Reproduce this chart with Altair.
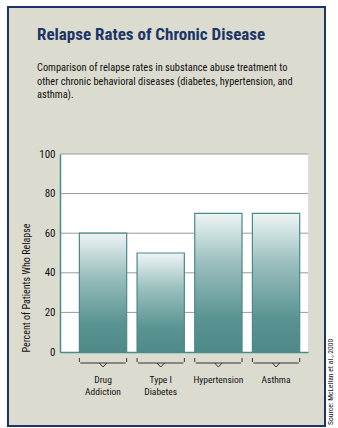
import altair as alt
import pandas as pd

categories = ["Drug Addiction", "Type I Diabetes", "Hypertension", "Asthma"]
label_lines = [["Drug", "Addiction"], ["Type I", "Diabetes"], ["Hypertension"], ["Asthma"]]
relapse_pct = [60, 50, 70, 70]
y_ticks = [0, 20, 40, 60, 80, 100]
grid_values = [20, 40, 60, 80, 100]

title_text = "Relapse Rates of Chronic Disease"
subtitle_lines = [
    "Comparison of relapse rates in substance abuse treatment to",
    "other chronic behavioral diseases (diabetes, hypertension, and",
    "asthma).",
]
source_text = "Source: McLellan et al., 2000"
y_title = "Percent of Patients Who Relapse"

FONT = "Roboto Condensed"
NAVY = "#1b3566"
TEAL = "#4a8a88"
BEIGE = "#dcdbd0"

W, H = 248, 198

df = pd.DataFrame({"cat": categories, "pct": relapse_pct,
                   "lab": ["\n".join(l) for l in label_lines]})
grid_df = pd.DataFrame({"g": grid_values})
one = pd.DataFrame({"k": [0]})

xscale = alt.Scale(domain=categories, paddingInner=0.18, paddingOuter=0.24, align=0.7)
yscale = alt.Scale(domain=[0, 100], nice=False)

y_axis = alt.Axis(values=y_ticks, ticks=False, grid=False, domainColor=TEAL,
                  domainWidth=1.5, zindex=1, title=y_title, labelFont=FONT,
                  labelFontSize=11, labelColor="#111", labelPadding=5,
                  labelOverlap=False, titleAnchor="start",
                  titleFont=FONT, titleFontSize=10, titleFontWeight="normal",
                  titleColor="#111", titlePadding=7)

panel = alt.Chart(one).mark_rect(fill=BEIGE, stroke=NAVY, strokeWidth=2).encode(
    x=alt.value(-52), x2=alt.value(265), y=alt.value(-147), y2=alt.value(272)
)
plot_bg = alt.Chart(one).mark_rect(fill="white").encode(
    x=alt.value(0), x2=alt.value(W), y=alt.value(0), y2=alt.value(H)
)
grid = alt.Chart(grid_df).mark_rule(color="#9a9a9a", strokeWidth=1).encode(
    y=alt.Y("g:Q", scale=yscale, axis=y_axis), x=alt.value(0), x2=alt.value(W)
)

gradient = alt.LinearGradient(
    gradient="linear", x1=0, y1=0, x2=0, y2=1,
    stops=[
        alt.GradientStop(offset=0, color="#eef5f5"),
        alt.GradientStop(offset=0.35, color="#9cc0bf"),
        alt.GradientStop(offset=0.75, color="#5a9492"),
        alt.GradientStop(offset=1, color="#4e8a88"),
    ],
)

bars = alt.Chart(df).mark_bar(fill=gradient, stroke=TEAL, strokeWidth=1.2).encode(
    x=alt.X("cat:N", scale=xscale, sort=categories,
            axis=alt.Axis(labels=False, ticks=False, title=None, domainColor=TEAL,
                          domainWidth=1.5, zindex=1, grid=False)),
    y=alt.Y("pct:Q", scale=yscale, axis=y_axis),
)

BRACE = "#333"
bx = dict(scale=xscale, sort=categories)
brace_h = alt.Chart(df).mark_rule(color=BRACE, strokeWidth=1).encode(
    x=alt.X("cat:N", bandPosition=0.02, **bx), x2=alt.X2("cat", bandPosition=0.98),
    y=alt.value(209)
)
brace_l = alt.Chart(df).mark_rule(color=BRACE, strokeWidth=1).encode(
    x=alt.X("cat:N", bandPosition=0.0, **bx), y=alt.value(204), y2=alt.value(208)
)
brace_r = alt.Chart(df).mark_rule(color=BRACE, strokeWidth=1).encode(
    x=alt.X("cat:N", bandPosition=1.0, **bx), y=alt.value(204), y2=alt.value(208)
)
tip_l = alt.Chart(df).mark_rule(color=BRACE, strokeWidth=1).encode(
    x=alt.X("cat:N", bandPosition=0.42, **bx), x2=alt.X2("cat", bandPosition=0.5),
    y=alt.value(209), y2=alt.value(213)
)
tip_r = alt.Chart(df).mark_rule(color=BRACE, strokeWidth=1).encode(
    x=alt.X("cat:N", bandPosition=0.58, **bx), x2=alt.X2("cat", bandPosition=0.5),
    y=alt.value(209), y2=alt.value(213)
)

cat_labels = alt.Chart(df).mark_text(font=FONT, fontSize=9.5, color="#111",
                                     baseline="top", align="center", lineBreak="\n",
                                     lineHeight=12).encode(
    x=alt.X("cat:N", bandPosition=0.5, **bx), y=alt.value(221), text="lab:N"
)

title = alt.Chart(one).mark_text(font=FONT, fontSize=17, fontWeight="bold", color=NAVY,
                                 align="left", baseline="alphabetic").encode(
    x=alt.value(-23), y=alt.value(-114), text=alt.value(title_text)
)
subtitle = alt.Chart(one).mark_text(font=FONT, fontSize=10.4, color="#111",
                                    align="left", baseline="alphabetic", lineHeight=13.5).encode(
    x=alt.value(-23), y=alt.value(-83), text=alt.value(subtitle_lines)
)
source = alt.Chart(one).mark_text(font=FONT, fontSize=7.6, color="#111", angle=270,
                                  align="left", baseline="middle").encode(
    x=alt.value(271), y=alt.value(271), text=alt.value(source_text)
)

chart = alt.layer(
    panel, plot_bg, grid, bars, brace_h, brace_l, brace_r, tip_l, tip_r,
    cat_labels, title, subtitle, source
).properties(
    width=W, height=H,
    autosize=alt.AutoSizeParams(type="none"),
    padding={"left": 60, "top": 154, "right": 30, "bottom": 76},
    background="white",
).configure_view(stroke=None, fill=None)

chart.save("out.html", embed_options={"renderer": "svg", "actions": False})
